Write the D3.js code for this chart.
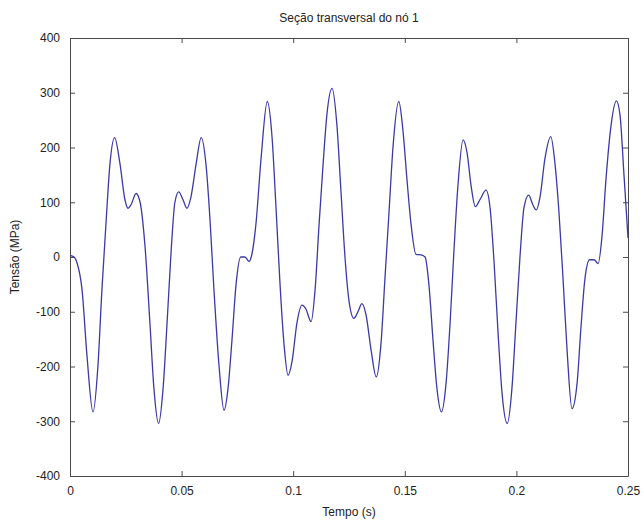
<!DOCTYPE html>
<html>
<head>
<meta charset="utf-8">
<script src="https://cdn.jsdelivr.net/npm/d3@7"></script>
<style>
  body { margin: 0; background: #fff; }
  text { font-family: "Liberation Sans", Arial, sans-serif; fill: #222; }
</style>
</head>
<body>
<div id="vis"></div>
<script>
// values
var timeValues = [
  0, 0.0018, 0.0031, 0.0054, 0.0076, 0.0103, 0.0125, 0.0143, 0.0161, 0.0179,
  0.0200, 0.0224, 0.0246, 0.0260, 0.0273, 0.0296, 0.0314, 0.0336, 0.0358, 0.0376,
  0.0397, 0.0417, 0.0435, 0.0453, 0.0470, 0.0487, 0.0506, 0.0524, 0.0542, 0.0565,
  0.0588, 0.0609, 0.0627, 0.0645, 0.0668, 0.0690, 0.0708, 0.0726, 0.0744, 0.0765,
  0.0784, 0.0802, 0.0815, 0.0833, 0.0856, 0.0884, 0.0905, 0.0923, 0.0941, 0.0959,
  0.0977, 0.0995, 0.1017, 0.1039, 0.1057, 0.1080, 0.1098, 0.1116, 0.1134, 0.1151,
  0.1174, 0.1196, 0.1214, 0.1232, 0.1250, 0.1272, 0.1290, 0.1308, 0.1326, 0.1349,
  0.1372, 0.1393, 0.1411, 0.1429, 0.1447, 0.1473, 0.1492, 0.1510, 0.1528, 0.1550,
  0.1573, 0.1591, 0.1608, 0.1626, 0.1644, 0.1664, 0.1685, 0.1703, 0.1720, 0.1738,
  0.1761, 0.1779, 0.1797, 0.1816, 0.1837, 0.1864, 0.1882, 0.1900, 0.1918, 0.1936,
  0.1959, 0.1980, 0.1998, 0.2016, 0.2034, 0.2055, 0.2074, 0.2089, 0.2106, 0.2128,
  0.2154, 0.2173, 0.2191, 0.2209, 0.2227, 0.2249, 0.2272, 0.2289, 0.2307, 0.2328,
  0.2348, 0.2366, 0.2384, 0.2401, 0.2424, 0.2448, 0.2464, 0.2482, 0.2500
];
var stressValues = [
  3, 0, -10, -60, -180, -283, -200, -60, 60, 170,
  218, 170, 105, 89, 95, 116, 100, 20, -120, -240,
  -304, -240, -120, 10, 100, 119, 105, 89, 110, 170,
  218, 170, 70, -60, -200, -280, -240, -150, -50, 0,
  0, -8, 5, 60, 180, 284, 220, 90, -50, -160,
  -216, -190, -120, -88, -95, -118, -60, 60, 170, 260,
  308, 240, 120, 0, -80, -112, -100, -85, -105, -170,
  -219, -160, -40, 80, 200, 284, 230, 140, 60, 5,
  4, 0, -50, -150, -240, -283, -230, -120, 10, 130,
  214, 190, 130, 92, 105, 122, 90, -10, -140, -250,
  -304, -240, -120, 0, 90, 113, 95, 86, 110, 180,
  220, 170, 80, -40, -170, -277, -230, -130, -40, -5,
  -5, -12, 40, 140, 240, 285, 260, 150, 35
];
var xTicks = [0, 0.05, 0.1, 0.15, 0.2, 0.25];
var xTickLabels = ["0", "0.05", "0.1", "0.15", "0.2", "0.25"];
var yTicks = [-400, -300, -200, -100, 0, 100, 200, 300, 400];

var chartTitle = "Seção transversal do nó 1";
var xTitle = "Tempo (s)";
var yTitle = "Tensão (MPa)";

var margin = {top: 38, right: 16, bottom: 47, left: 70},
    width = 644 - margin.left - margin.right,
    height = 523 - margin.top - margin.bottom;

var points = timeValues.map(function (t, i) {
  return {t: t, v: stressValues[i]};
});

var svg = d3.select("#vis")
  .append("svg")
  .attr("width", 644)
  .attr("height", 523);

var g = svg.append("g")
  .attr("transform", "translate(" + margin.left + "," + margin.top + ")");

var x = d3.scaleLinear().domain([0, 0.25]).range([0, width]);
var y = d3.scaleLinear().domain([-400, 400]).range([height, 0]);

var axisColor = "#4a4a4a";
var tickLen = 5;

// bottom and top axes, ticks pointing in like matlab
var xBottom = g.append("g")
  .attr("transform", "translate(0," + height + ")")
  .call(d3.axisBottom(x).tickValues(xTicks)
    .tickFormat(function (d, i) { return xTickLabels[i]; })
    .tickSizeInner(-tickLen).tickSizeOuter(0).tickPadding(10));
var xTop = g.append("g")
  .call(d3.axisTop(x).tickValues(xTicks).tickFormat("")
    .tickSizeInner(-tickLen).tickSizeOuter(0));

var yLeft = g.append("g")
  .call(d3.axisLeft(y).tickValues(yTicks)
    .tickFormat(function (d) { return String(d); })
    .tickSizeInner(-tickLen).tickSizeOuter(0).tickPadding(10));
var yRight = g.append("g")
  .attr("transform", "translate(" + width + ",0)")
  .call(d3.axisRight(y).tickValues(yTicks).tickFormat("")
    .tickSizeInner(-tickLen).tickSizeOuter(0));

[xBottom, xTop, yLeft, yRight].forEach(function (a) {
  a.select(".domain").attr("stroke", axisColor);
  a.selectAll(".tick line").attr("stroke", axisColor);
  a.selectAll("text")
    .style("font-size", "12px")
    .attr("fill", "#222");
});

// the curve
g.append("path")
  .datum(points)
  .attr("fill", "none")
  .attr("stroke", "#3a3aa6")
  .attr("stroke-width", 1.3)
  .attr("d", d3.line()
    .x(function (d) { return x(d.t); })
    .y(function (d) { return y(d.v); })
    .curve(d3.curveMonotoneX));

// titles
svg.append("text")
  .attr("text-anchor", "middle")
  .attr("x", margin.left + width / 2)
  .attr("y", 22)
  .style("font-size", "12px")
  .text(chartTitle);

svg.append("text")
  .attr("text-anchor", "middle")
  .attr("x", margin.left + width / 2)
  .attr("y", 516)
  .style("font-size", "12px")
  .text(xTitle);

svg.append("text")
  .attr("text-anchor", "middle")
  .attr("transform", "translate(19," + (margin.top + height / 2) + ") rotate(-90)")
  .style("font-size", "12px")
  .text(yTitle);
</script>
</body>
</html>
